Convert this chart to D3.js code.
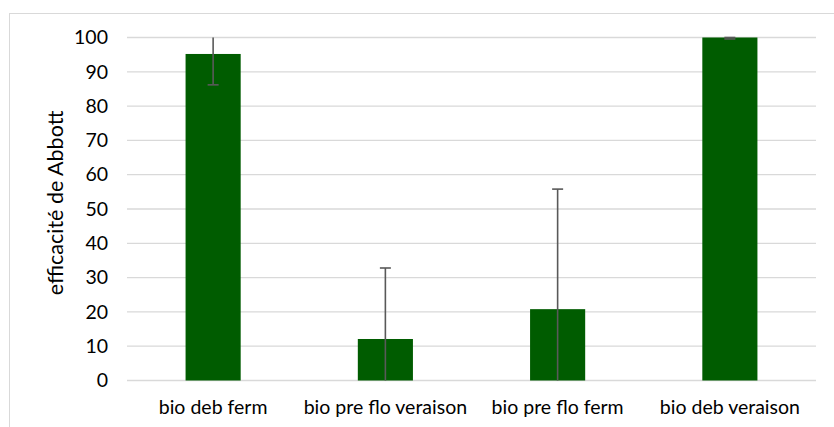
<!DOCTYPE html>
<html><head><meta charset="utf-8">
<script src="https://cdn.jsdelivr.net/npm/d3@7"></script>
<style>body{margin:0;background:#fff}svg{display:block}</style>
</head><body>
<script>
const categories = ["bio deb ferm", "bio pre flo veraison", "bio pre flo ferm", "bio deb veraison"];
const values = [95.2, 12.1, 20.8, 100];
const errors = [9.0, 20.7, 35.0, 0];
const yTicks = [0, 10, 20, 30, 40, 50, 60, 70, 80, 90, 100];
const yTitle = "efficacité de Abbott";

const W = 834, H = 427;
const svg = d3.select("body").append("svg").attr("width", W).attr("height", H);
const font = "Lato, 'Open Sans', sans-serif";
const fs = 19.5;

svg.append("rect").attr("x", 9.5).attr("y", 13.5).attr("width", 840).attr("height", 440)
  .attr("fill", "none").attr("stroke", "#d9d9d9").attr("stroke-width", 1);

const x = d3.scaleBand().domain(categories).range([127, 816]).paddingInner(0.68).paddingOuter(0.34);
const y = d3.scaleLinear().domain([0, 100]).range([380.5, 37.5]);

// gridlines
svg.append("g").selectAll("line").data(yTicks).join("line")
  .attr("x1", 127).attr("x2", 816)
  .attr("y1", d => y(d)).attr("y2", d => y(d))
  .attr("stroke", "#d9d9d9").attr("stroke-width", 1.3);

// y axis labels
const yAxis = svg.append("g").attr("transform", "translate(108,0)")
  .call(d3.axisLeft(y).tickValues(yTicks).tickSize(0).tickPadding(0));
yAxis.select(".domain").remove();
yAxis.selectAll("text").attr("font-family", font).attr("font-size", fs).attr("fill", "#000");

// bars
svg.append("g").selectAll("rect").data(categories).join("rect")
  .attr("x", d => x(d)).attr("width", x.bandwidth())
  .attr("y", (d, i) => y(values[i])).attr("height", (d, i) => y(0) - y(values[i]))
  .attr("fill", "#005c00");

// error bars (clipped to axis range like Excel)
const eb = svg.append("g").attr("stroke", "#595959").attr("stroke-width", 1.6);
categories.forEach((c, i) => {
  const cx = x(c) + x.bandwidth() / 2;
  const hiRaw = values[i] + errors[i], loRaw = values[i] - errors[i];
  const hi = Math.min(100, hiRaw), lo = Math.max(0, loRaw);
  eb.append("line").attr("x1", cx).attr("x2", cx).attr("y1", y(hi)).attr("y2", y(lo));
  if (hiRaw <= 100) eb.append("line").attr("x1", cx - 5.5).attr("x2", cx + 5.5).attr("y1", y(hi)).attr("y2", y(hi));
  if (loRaw >= 0) eb.append("line").attr("x1", cx - 5.5).attr("x2", cx + 5.5).attr("y1", y(lo) + (errors[i] === 0 ? 1.5 : 0)).attr("y2", y(lo) + (errors[i] === 0 ? 1.5 : 0));
});

// x labels
const xAxis = svg.append("g").attr("transform", "translate(0,380.5)")
  .call(d3.axisBottom(x).tickSize(0).tickPadding(20));
xAxis.select(".domain").remove();
xAxis.selectAll("text").attr("font-family", font).attr("font-size", fs).attr("fill", "#000");

// y title
svg.append("text").attr("transform", `translate(63,203) rotate(-90)`)
  .attr("text-anchor", "middle").attr("font-family", font).attr("font-size", 21.5).attr("fill", "#000")
  .text(yTitle);
</script>
</body></html>
